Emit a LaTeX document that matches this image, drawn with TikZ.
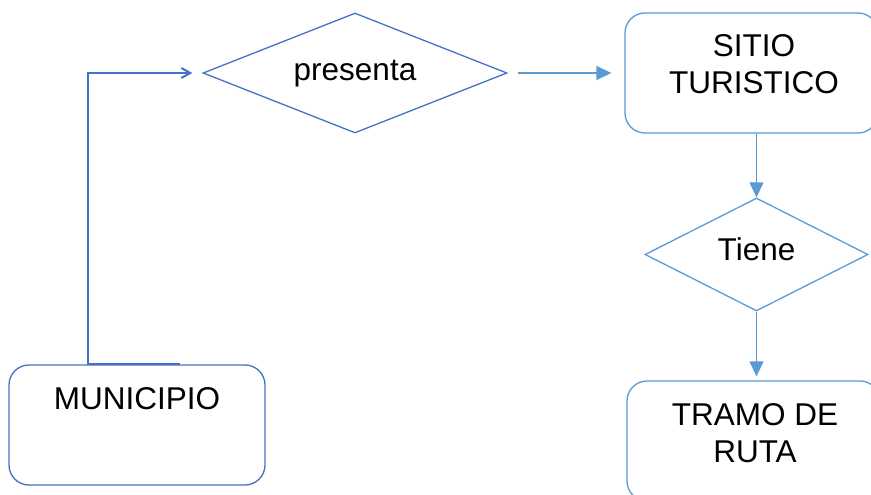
\documentclass[tikz,border=0pt]{standalone}
\usepackage{fontspec}
\setmainfont{Liberation Sans}
\usetikzlibrary{shapes.geometric,arrows.meta}
\definecolor{blueA}{HTML}{4472C4}
\definecolor{blueB}{HTML}{5B9BD5}
\begin{document}
\begin{tikzpicture}[x=1pt,y=-1pt,
  txt/.style={font=\fontsize{31.5}{36.5}\selectfont, align=center, inner sep=0pt, text=black},
  boxA/.style={draw=blueA, line width=1.3pt, rounded corners=20pt, inner sep=0pt, fill=white},
  boxB/.style={draw=blueB, line width=1.3pt, rounded corners=20pt, inner sep=0pt, fill=white},
  diaA/.style={diamond, aspect=2.5, draw=blueA, line width=1.3pt, inner sep=0pt, font=\fontsize{31.5}{36.5}\selectfont, text=black},
  diaB/.style={diamond, aspect=2.5, draw=blueB, line width=1.3pt, inner sep=0pt, font=\fontsize{31.5}{36.5}\selectfont, text=black},
  connA/.style={draw=blueA, line width=2pt, -{Straight Barb[length=9pt,width=10pt]}},
  connB/.style={draw=blueB, line width=1.3pt, -{Triangle[length=15pt,width=14pt]}}
]
\useasboundingbox (0,0) rectangle (871,495);
\clip (0,0) rectangle (871,495);
\fill[white] (0,0) rectangle (871,495);

\node[boxA, minimum width=256pt, minimum height=120pt,
  label={[txt, anchor=base, yshift=-45pt]north:MUNICIPIO}] (m) at (137,425) {};
\node[boxB, minimum width=253pt, minimum height=120pt,
  label={[txt, anchor=base, yshift=-81pt, xshift=2.5pt]north:SITIO\\TURISTICO}] (s) at (751.5,73) {};
\node[boxB, minimum width=253pt, minimum height=120pt,
  label={[txt, anchor=base, yshift=-82pt, xshift=1.5pt]north:TRAMO DE\\RUTA}] (r) at (753.5,441) {};

\node[diaA, minimum width=304pt, minimum height=120pt, text height=26pt, text depth=10pt] (p) at (355,73) {presenta};
\node[diaB, minimum width=223pt, minimum height=113pt, text height=22pt, text depth=11pt] (t) at (756.5,254.5) {Tiene};

\draw[connA] ([xshift=43pt]m.north) -- ([xshift=-49pt]m.north) |- ([xshift=-10pt]p.west);
\draw[connB, shorten <=10pt, shorten >=13pt] (p.east) -- (s.west);
\draw[connB] (s.south -| t.north) -- (t.north);
\draw[connB, shorten >=4pt] (t.south) -- (r.north -| t.south);
\end{tikzpicture}
\end{document}
